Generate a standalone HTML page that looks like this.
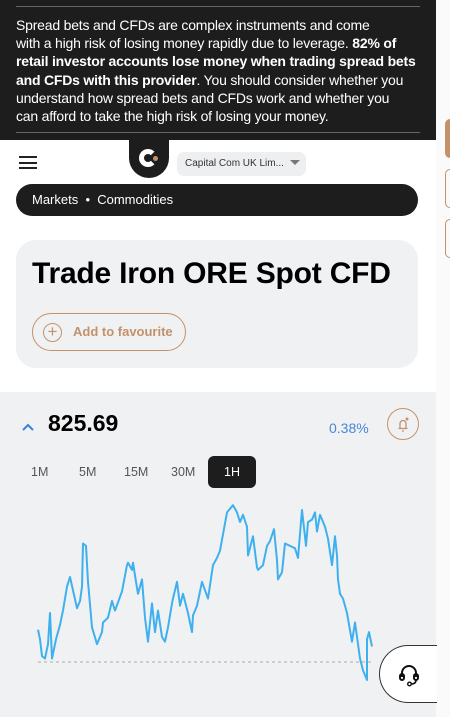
<!DOCTYPE html>
<html><head><meta charset="utf-8"><style>
*{margin:0;padding:0;box-sizing:border-box}
body{width:450px;height:717px;overflow:hidden;background:#fff;font-family:"Liberation Sans",sans-serif;position:relative}
.abs{position:absolute}
</style></head><body>
<div class="abs" style="left:436px;top:0;width:14px;height:717px;background:#fafafa"></div>
<div class="abs" style="left:445px;top:119px;width:12px;height:39px;background:#c4926a;border-radius:5px"></div>
<div class="abs" style="left:445px;top:169px;width:12px;height:39px;border:1px solid #c4926a;border-radius:5px"></div>
<div class="abs" style="left:445px;top:219px;width:12px;height:39px;border:1px solid #c4926a;border-radius:5px"></div>

<div class="abs" style="left:0;top:0;width:436px;height:140px;background:#1d1d1d;color:#fff;font-size:14px;line-height:18.2px">
<div style="border-top:1px solid #666;position:absolute;left:16px;right:16px;top:6px"></div>
<p style="position:absolute;left:16px;top:16px;white-space:nowrap;letter-spacing:-0.2px">Spread bets and CFDs are complex instruments and come<br>with a high risk of losing money rapidly due to leverage. <b>82% of</b><br><b>retail investor accounts lose money when trading spread bets</b><br><b>and CFDs with this provider</b>. You should consider whether you<br>understand how spread bets and CFDs work and whether you<br>can afford to take the high risk of losing your money.</p>
<div style="border-top:1px solid #666;position:absolute;left:16px;right:16px;top:132px"></div>
</div>

<div class="abs" style="left:19px;top:156px;width:18px;height:13px">
<div style="height:2px;background:#222;margin-bottom:3.5px"></div><div style="height:2px;background:#222;margin-bottom:3.5px"></div><div style="height:2px;background:#222"></div></div>
<div class="abs" style="left:129px;top:140px;width:40px;height:38px;background:#1d1d1d;border-radius:0 0 20px 20px">
<div style="position:absolute;left:10px;top:9px;width:18px;height:18px;border:5px solid #fff;border-right-color:transparent;border-radius:50%"></div>
<div style="position:absolute;left:24px;top:16px;width:5px;height:5px;background:#c4926a;border-radius:50%"></div></div>
<div class="abs" style="left:177px;top:152px;width:129px;height:24px;background:#eeeff1;border-radius:7px;font-size:10px;color:#333;line-height:24px;padding-left:8px">Capital Com UK Lim... <span style="display:inline-block;margin-left:3px;border-left:5px solid transparent;border-right:5px solid transparent;border-top:5px solid #777;vertical-align:1px"></span></div>

<div class="abs" style="left:16px;top:184px;width:402px;height:32px;background:#1d1d1d;border-radius:16px;color:#fff;font-size:13px;line-height:32px;padding-left:16px"><span>Markets</span> &nbsp;•&nbsp; <span>Commodities</span></div>

<div class="abs" style="left:16px;top:240px;width:402px;height:128px;background:#f0f1f3;border-radius:20px">
<h1 style="position:absolute;left:16px;top:17px;font-size:30px;font-weight:bold;color:#000;letter-spacing:-0.2px;white-space:nowrap">Trade Iron ORE Spot CFD</h1>
<div style="position:absolute;left:16px;top:73px;width:154px;height:38px;border:1px solid #c4926a;border-radius:19px;color:#c4926a;font-size:13px;font-weight:bold;line-height:36px;padding-left:40px">
<span style="position:absolute;left:10px;top:9px;width:19px;height:19px;border:1.5px solid #c4926a;border-radius:50%;font-size:17px;line-height:15px;text-align:center;font-weight:normal">+</span>Add to favourite</div>
</div>

<div class="abs" style="left:0;top:392px;width:436px;height:325px;background:#f0f1f3"></div>
<svg class="abs" style="left:21px;top:422px" width="14" height="10"><polyline points="2,8 7,3 12,8" fill="none" stroke="#3b82d6" stroke-width="2"/></svg>
<div class="abs" style="left:48px;top:410px;font-size:23px;font-weight:bold;color:#000">825.69</div>
<div class="abs" style="left:329px;top:420px;font-size:14px;color:#4a86d8">0.38%</div>
<div class="abs" style="left:387px;top:408px;width:32px;height:32px;border:1px solid #c4926a;border-radius:50%">
<svg width="30" height="30" style="position:absolute;left:0;top:0"><path d="M10.5,19.5 h9 M12,19.5 v-5 a3,3 0 0 1 6,0 v5 M14,22 h2" fill="none" stroke="#c4926a" stroke-width="1.3"/><circle cx="19" cy="10" r="1.5" fill="#c4926a"/></svg></div>

<div class="abs" style="left:31px;top:465px;font-size:12.5px;color:#555">1M</div>
<div class="abs" style="left:79px;top:465px;font-size:12.5px;color:#555">5M</div>
<div class="abs" style="left:124px;top:465px;font-size:12.5px;color:#555">15M</div>
<div class="abs" style="left:171px;top:465px;font-size:12.5px;color:#555">30M</div>
<div class="abs" style="left:208px;top:456px;width:48px;height:32px;background:#1d1d1d;border-radius:6px;color:#fff;font-size:12.5px;line-height:32px;text-align:center">1H</div>

<svg class="abs" id="chart" style="left:0;top:490px" width="436" height="227"></svg>

<div class="abs" style="left:379px;top:645px;width:58px;height:58px;background:#fff;border:1px solid #333;border-right:none;border-radius:29px 0 0 29px">
<svg width="30" height="30" style="position:absolute;left:14px;top:14px"><path d="M8,17 v-4 a7,7 0 0 1 14,0 v4" fill="none" stroke="#111" stroke-width="2"/><rect x="6" y="14" width="4" height="6" rx="2" fill="none" stroke="#111" stroke-width="2"/><rect x="20" y="14" width="4" height="6" rx="2" fill="none" stroke="#111" stroke-width="2"/><path d="M22,20 q0,4 -5,4" fill="none" stroke="#111" stroke-width="1.6"/><circle cx="15.5" cy="24" r="1.8" fill="#fff" stroke="#111" stroke-width="1.4"/></svg></div>

<script>
const times=[0,2,4,7,10,12,14,18,22,25,29,32,39,42,44,45,48,50,54,59,64,65,70,74,77,84,89,90,94,95,98,100,104,107,110,114,117,120,124,127,130,134,135,139,142,145,150,154,155,159,164,170,175,179,182,189,195,199,202,205,209,210,215,219,220,225,229,232,236,236,239,240,244,247,252,257,260,264,268,270,274,277,279,282,287,290,294,297,299,300,302,305,309,314,317,322,325,329,329,331,334,335];
const values=[823.3,822.9,822.2,822.1,822.7,824.0,822.1,822.9,823.5,824.1,825.1,825.5,824.2,824.5,825.1,826.9,826.8,825.3,823.4,822.7,823.2,823.6,823.8,824.5,824.1,824.9,826.0,826.1,825.8,826.1,825.3,824.8,825.4,823.8,822.8,824.4,823.2,824.1,823.0,822.8,823.4,824.4,824.6,825.3,824.3,824.8,824.0,823.2,823.9,824.3,825.3,824.6,826.0,826.3,826.6,828.2,828.5,828.2,827.8,828.1,827.6,826.4,827.2,825.9,825.8,826.0,826.8,827.0,827.5,827.5,826.2,825.4,825.7,826.9,826.8,826.7,826.3,828.3,826.8,827.8,827.9,828.2,827.4,828.1,827.6,827.1,826.0,827.2,826.4,825.4,824.8,824.6,824.0,822.8,823.6,822.1,821.6,821.2,822.9,823.2,822.6];
const baseline=821.95;
const svg=document.getElementById('chart');
const NS='http://www.w3.org/2000/svg';
const x0=38,x1=373,yTop=20,yBot=190;
const tMin=0,tMax=335,vMin=821.2,vMax=828.3;
function xs(t){return x0+(t-tMin)/(tMax-tMin)*(x1-x0);}
function ys(v){return yBot-(v-vMin)/(vMax-vMin)*(yBot-yTop);}
const base=document.createElementNS(NS,'line');


base.setAttribute('x1',xs(tMin));base.setAttribute('x2',xs(tMax));
base.setAttribute('y1',ys(baseline));base.setAttribute('y2',ys(baseline));
base.setAttribute('stroke','#aaa');base.setAttribute('stroke-dasharray','3,3');base.setAttribute('stroke-width','1');
svg.appendChild(base);
const line=document.createElementNS(NS,'polyline');


line.setAttribute('points',times.map((t,i)=>xs(t).toFixed(1)+','+ys(values[i]).toFixed(1)).join(' '));
line.setAttribute('fill','none');line.setAttribute('stroke','#3fb0ee');line.setAttribute('stroke-width','2');line.setAttribute('stroke-linejoin','round');
svg.appendChild(line);
</script>
</body></html>
